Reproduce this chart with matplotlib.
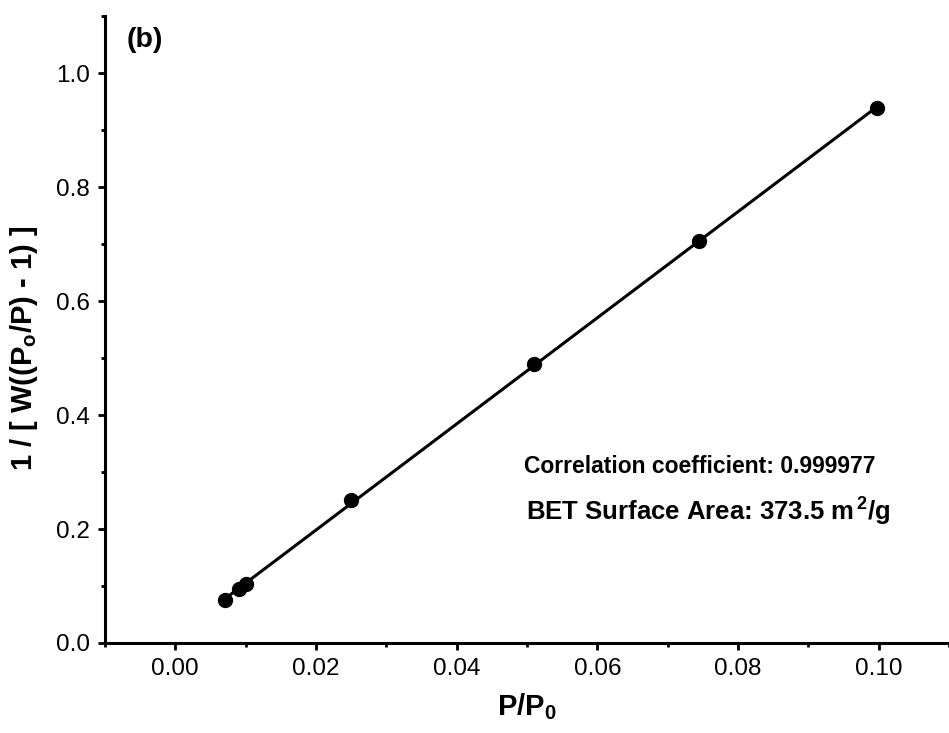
"""BET plot (b): linearised isotherm with fitted line."""
import numpy as np
import matplotlib
matplotlib.use("Agg")
import matplotlib.pyplot as plt
from matplotlib.ticker import MultipleLocator

plt.rcParams["font.family"] = ["Liberation Sans", "DejaVu Sans"]
plt.rcParams["mathtext.fontset"] = "custom"
plt.rcParams["mathtext.rm"] = "Liberation Sans"
plt.rcParams["mathtext.bf"] = "Liberation Sans:bold"

# relative pressure and BET transform
p_rel = [0.007, 0.009, 0.010, 0.025, 0.051, 0.0745, 0.0997]
bet_y = [0.075, 0.094, 0.103, 0.251, 0.489, 0.705, 0.939]

corr_text = "Correlation coefficient: 0.999977"
area_text = r"BET Surface Area: 373.5 m$^{\,\mathbf{2}}$/g"

fig = plt.figure(figsize=(9.49, 7.33), dpi=100)
ax = fig.add_axes([0.1106, 0.1228, 0.8894, 0.855])

# straight-line fit over the measured range
slope, icpt = np.polyfit(p_rel, bet_y, 1)
xfit = np.array([min(p_rel), max(p_rel)])
ax.plot(xfit, slope * xfit + icpt, color="black", lw=2.2, zorder=2)
ax.plot(p_rel, bet_y, "o", color="black", ms=10, zorder=3)

ax.set_xlim(-0.01, 0.11)
ax.set_ylim(0, 1.1)
ax.xaxis.set_major_locator(MultipleLocator(0.02))
ax.xaxis.set_minor_locator(MultipleLocator(0.01))
ax.yaxis.set_major_locator(MultipleLocator(0.2))
ax.yaxis.set_minor_locator(MultipleLocator(0.1))
ax.xaxis.set_major_formatter(lambda v, pos: f"{v:.2f}")
ax.yaxis.set_major_formatter(lambda v, pos: f"{v:.1f}")

for side in ["top", "right"]:
    ax.spines[side].set_visible(False)
for side in ["left", "bottom"]:
    ax.spines[side].set_linewidth(2.2)
ax.tick_params(which="major", direction="out", length=5, width=2, labelsize=17.5, pad=6)
ax.tick_params(which="minor", direction="out", length=3, width=2)

ax.set_xlabel(r"P/P$_\mathbf{0}$", fontsize=21, fontweight="bold", labelpad=8)
ax.set_ylabel(r"1 / [ W((P$_\mathbf{o}$/P) - 1) ]", fontsize=21, fontweight="bold")
ax.yaxis.set_label_coords(-0.077, 0.47)

ax.text(-0.0069, 1.058, "(b)", fontsize=20.5, fontweight="bold", va="center")
ax.text(0.0496, 0.31, corr_text, fontsize=16.5, fontweight="bold", va="center")
ax.text(0.0499, 0.233, area_text, fontsize=18.5, fontweight="bold", va="center")

fig.savefig("out.png", dpi=100)
